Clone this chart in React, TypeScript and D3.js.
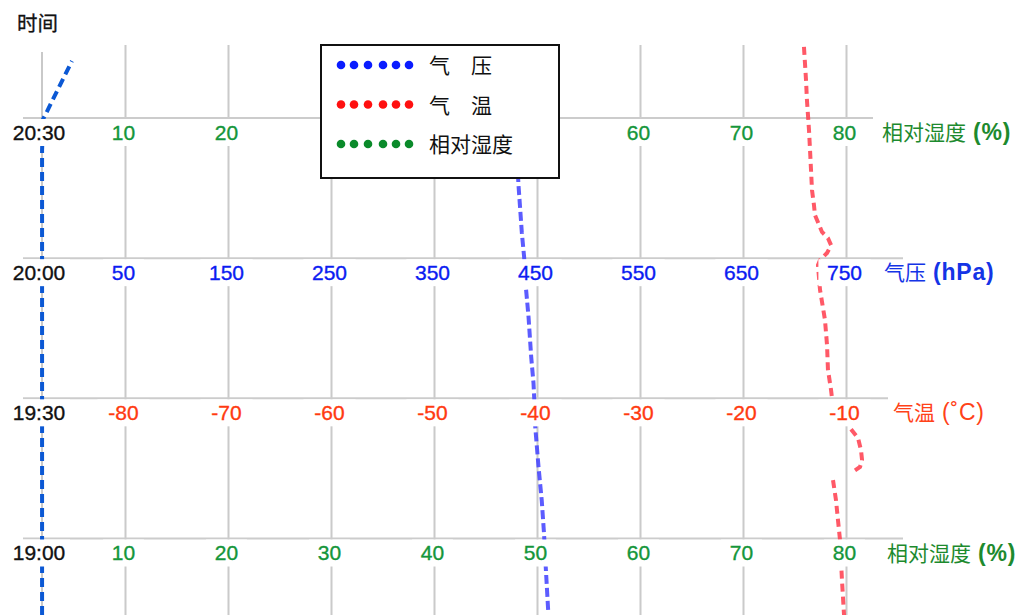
import React from "react";
import * as d3 from "d3";

// Time axis: minutes after 19:00
const timeTicks = [0, 30, 60, 90];
const timeLabels = ["19:00", "19:30", "20:00", "20:30"];

// Tick values of the three measurement axes
const humidityTicks = [10, 20, 30, 40, 50, 60, 70, 80];
const pressureTicks = [50, 150, 250, 350, 450, 550, 650, 750];
const temperatureTicks = [-80, -70, -60, -50, -40, -30, -20, -10];

// Which axis is labelled along each time row (bottom to top)
const rowAxes = ["humidity", "temperature", "pressure", "humidity"];
const axisTitles: Record<string, [string, string]> = {
  humidity: ["相对湿度", "(%)"],
  pressure: ["气压", "(hPa)"],
  temperature: ["气温", "(˚C)"],
};

// Pressure profile (hPa)
const pressureMinutes = [81.0, 76.1, 65.4, 60.3, 53.8, 47.4, 38.8, 33.3, 30.1, 23.9, 15.3, 8.2, 1.2, -6.1, -16.0];
const pressureValues = [430.6, 431.4, 434.8, 437.0, 438.7, 441.3, 443.9, 446.1, 446.8, 447.8, 451.0, 454.1, 456.3, 458.0, 460.5];

// Temperature profile (°C); null marks a break in the trace
const temperatureMinutes = [
  105.2, 98.1, 93.8, 87.4, 83.1, 74.6, 71.4, 69.2, 67.7, 65.6, 64.3, 62.8, 61.1, 59.6, 58.5,
  53.2, 46.8, 41.4, 36.1, 31.8, 30.1, 27.0, 23.4, 21.5, 18.9, 16.8, 15.3, 14.0, 13.3, 12.5,
  8.2, 4.0, -0.3, -8.9, -16.4,
];
const temperatureValues = [
  -14.13, -13.93, -13.84, -13.64, -13.54, -13.35, -13.16, -13.06, -12.77, -12.38, -11.8, -11.5,
  -11.89, -12.57, -12.77, -12.57, -12.09, -11.89, -11.8, -11.5, -11.41, null, -9.56, -8.88,
  -8.59, -8.49, -8.69, -9.56, null, -11.31, -11.02, -10.83, -10.63, -10.44, -10.24,
];

// Humidity trace (%)
const humidityMinutes = [-16.4, 83.1, 89.8, 90.6, 102.2];
const humidityValues = [1.9, 1.9, 2.0, 2.2, 4.8];

// Legend entries
const legendLabels = ["气　压", "气　温", "相对湿度"];
const legendColors = ["#0a1cff", "#ff1010", "#0a8a2a"];

const W = 1017;
const H = 615;
const LEFT = 125.5;
const RIGHT = 846.5;
const FONT = "'Liberation Sans', Arial, 'Noto Sans CJK SC', sans-serif";
const LEGEND = { x: 321, y: 45, w: 238, h: 133 };

const xHumidity = d3.scaleLinear().domain([10, 80]).range([LEFT, RIGHT]);
const xPressure = d3.scaleLinear().domain([50, 750]).range([LEFT, RIGHT]);
const xTemperature = d3.scaleLinear().domain([-80, -10]).range([LEFT, RIGHT]);
const y = d3.scaleLinear().domain([0, 90]).range([538.5, 118]);

const axisStyle: Record<string, { ticks: number[]; color: string; titleColor: string; bold: boolean }> = {
  humidity: { ticks: humidityTicks, color: "#14963a", titleColor: "#1d8a2e", bold: true },
  pressure: { ticks: pressureTicks, color: "#0b1cf2", titleColor: "#1434e6", bold: true },
  temperature: { ticks: temperatureTicks, color: "#ff3a10", titleColor: "#ff4218", bold: false },
};
const axisScale: Record<string, d3.ScaleLinear<number, number>> = {
  humidity: xHumidity,
  pressure: xPressure,
  temperature: xTemperature,
};

const rowLineEnd = [903, 888, 903, 873];
const titleX = [887, 893, 884, 882];

function tracePath(minutes: number[], values: (number | null)[], xs: d3.ScaleLinear<number, number>) {
  const pts = minutes.map((m, i) => [m, values[i]] as [number, number | null]);
  return (
    d3
      .line<[number, number | null]>()
      .defined((d) => d[1] !== null)
      .x((d) => xs(d[1] as number))
      .y((d) => y(d[0]))(pts) || ""
  );
}

export default function App() {
  const gridXs = humidityTicks.map((t) => xHumidity(t));
  const labelW = (s: string) => s.length * 11.4 + 18;
  const underLegend = (cx: number, ry: number) =>
    cx > LEGEND.x - 10 && cx < LEGEND.x + LEGEND.w + 10 && ry > LEGEND.y && ry < LEGEND.y + LEGEND.h;

  return (
    <svg
      width={W}
      height={H}
      viewBox={`0 0 ${W} ${H}`}
      style={{ position: "absolute", left: 0, top: 0, background: "#fff", fontFamily: FONT }}
    >
      <rect x={0} y={0} width={W} height={H} fill="#fff" />
      <text x={17} y={31} fontSize={20.5} fill="#111" stroke="#111" strokeWidth={0.3}>
        时间
      </text>

      {/* vertical grid */}
      <line x1={42} x2={42} y1={52} y2={H} stroke="#c9c9c9" strokeWidth={2} />
      {gridXs.map((gx, i) => (
        <line key={i} x1={gx} x2={gx} y1={45} y2={H} stroke="#cacaca" strokeWidth={2} />
      ))}

      {/* time rows */}
      {timeTicks.map((t, i) => (
        <line key={i} x1={23} x2={rowLineEnd[i]} y1={y(t)} y2={y(t)} stroke="#cccccc" strokeWidth={2} />
      ))}

      {/* traces */}
      <path
        d={tracePath(humidityMinutes, humidityValues, xHumidity)}
        fill="none"
        stroke="#0b58d4"
        strokeWidth={4}
        strokeDasharray="9 5"
      />
      <path
        d={tracePath(pressureMinutes, pressureValues, xPressure)}
        fill="none"
        stroke="#3f3fff"
        strokeOpacity={0.85}
        strokeWidth={4}
        strokeDasharray="9 4"
      />
      <path
        d={tracePath(temperatureMinutes, temperatureValues, xTemperature)}
        fill="none"
        stroke="#ff3c4c"
        strokeOpacity={0.85}
        strokeWidth={4}
        strokeDasharray="8 5"
      />

      {/* row labels */}
      {timeTicks.map((t, i) => {
        const key = rowAxes[i];
        const st = axisStyle[key];
        const xs = axisScale[key];
        const ry = y(t);
        const [cjk, unit] = axisTitles[key];
        return (
          <g key={i}>
            <rect x={10} y={ry + 1} width={60} height={27} fill="#fff" />
            <text x={39} y={ry + 21.5} fontSize={21} textAnchor="middle" fill="#111" stroke="#111" strokeWidth={0.35}>
              {timeLabels[i]}
            </text>
            {st.ticks.map((v) => {
              const s = String(v);
              const cx = xs(v) - 2;
              if (underLegend(cx, ry)) return null;
              const w = labelW(s);
              return (
                <g key={v}>
                  <rect x={cx - w / 2} y={ry + 1} width={w} height={27} fill="#fff" />
                  <text
                    x={cx}
                    y={ry + 21.5}
                    fontSize={21}
                    textAnchor="middle"
                    fill={st.color}
                    stroke={st.color}
                    strokeWidth={0.35}
                  >
                    {s}
                  </text>
                </g>
              );
            })}
            <text x={titleX[i]} y={ry + 22} fontSize={21} fill={st.titleColor}>
              <tspan>{cjk}</tspan>
              <tspan dx={7} fontWeight={st.bold ? "bold" : "normal"} fontSize={23} letterSpacing={0.8}>
                {unit}
              </tspan>
            </text>
          </g>
        );
      })}

      {/* legend */}
      <g>
        <rect x={LEGEND.x} y={LEGEND.y} width={LEGEND.w} height={LEGEND.h} fill="#fff" stroke="#111" strokeWidth={2} />
        {legendLabels.map((lab, i) => {
          const cy = 65 + i * 39.5;
          return (
            <g key={i}>
              {[0, 13, 27, 42, 55, 68].map((dx, j) => (
                <circle key={j} cx={341 + dx} cy={cy} r={4.3} fill={legendColors[i]} />
              ))}
              <text x={429} y={cy + 8} fontSize={21} fill="#111">
                {lab}
              </text>
            </g>
          );
        })}
      </g>
    </svg>
  );
}
